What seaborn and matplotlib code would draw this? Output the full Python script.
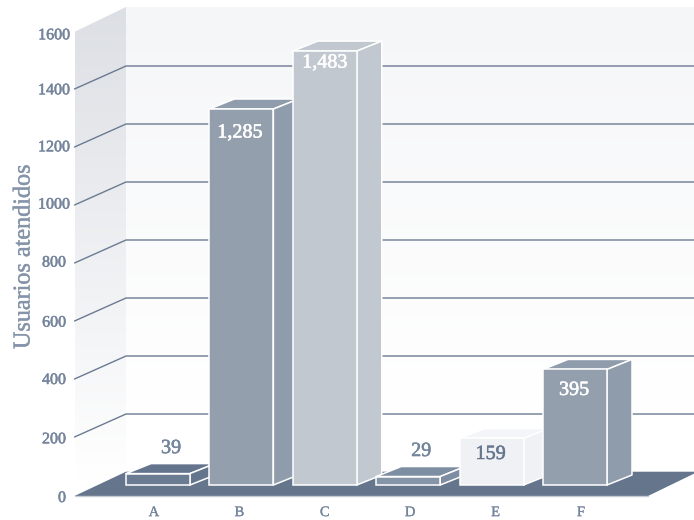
import numpy as np
import pandas as pd
import matplotlib
matplotlib.use("Agg")
import matplotlib.pyplot as plt
import matplotlib.patheffects as pe
from matplotlib.patches import Polygon
from matplotlib.colors import LinearSegmentedColormap
from matplotlib.transforms import ScaledTranslation
import seaborn as sns

categories = ["A", "B", "C", "D", "E", "F"]
values = [39, 1285, 1483, 29, 159, 395]
value_labels = ["39", "1,285", "1,483", "29", "159", "395"]
y_ticks = [0, 200, 400, 600, 800, 1000, 1200, 1400, 1600]

front_colors = ["#6a7b92", "#949fae", "#c1c8d0", "#8595a7", "#f0f1f5", "#949fae"]
top_colors = ["#64748c", "#8f9cab", "#c1c8d0", "#7e8ea2", "#f4f5f8", "#8f9cab"]
side_colors = ["#64748c", "#8f9cab", "#c1c8d0", "#7e8ea2", "#f0f1f5", "#8f9cab"]
label_colors = ["#75859c", "#ffffff", "#ffffff", "#75859c", "#66778f", "#ffffff"]
label_dx_px = [13, -1.5, 0, 13, -1, -1]
label_dy_px = [25, -24, -12, 25, -16, -21]
tick_shift_px = [1.0, 0.3, -1.0, -0.4, -2.4, -2.4, -1.7, -0.7, 2.3]

sns.set_theme(style="white")
plt.rcParams["font.family"] = ["Liberation Serif", "DejaVu Serif"]

TEXT = "#75859c"
GRID = "#6b7a92"
W, H = 694, 520
fig = plt.figure(figsize=(W / 100, H / 100), dpi=100)


def heavier(color, width=0.4):
    return [pe.withStroke(linewidth=width, foreground=color)]


# wall / floor axes: the y axis is the left front edge of the side wall
AX_TOP, AX_BOTTOM = 31, 495
wall = fig.add_axes([76 / W, (H - AX_BOTTOM) / H, (W - 76) / W, (AX_BOTTOM - AX_TOP) / H])
wall.set_xlim(0, W - 76)
wall.set_ylim(0, 1600)
for s in wall.spines.values():
    s.set_visible(False)
PX_PER_UNIT = (AX_BOTTOM - AX_TOP) / 1600
x_left = -1.5
dx = 50
dv = 23 / PX_PER_UNIT
wall_top = (AX_BOTTOM - 7) / PX_PER_UNIT


def gradient(ax, poly_pts, c0, c1, v0, v1, x0, x1):
    cmap = LinearSegmentedColormap.from_list("g", [c1, c0])
    im = ax.imshow(np.linspace(1, 0, 256).reshape(-1, 1), cmap=cmap, aspect="auto",
                   extent=(x0, x1, v0, v1), zorder=0)
    clip = Polygon(poly_pts, transform=ax.transData, facecolor="none", edgecolor="none")
    ax.add_patch(clip)
    im.set_clip_box(fig.bbox)
    im.set_clip_path(clip)


side_poly = [(x_left, 1597), (dx, wall_top), (dx, dv), (x_left, 0)]
gradient(wall, side_poly, "#dcdfe4", "#ffffff", 50, wall_top, x_left, dx)
back_poly = [(dx, wall_top), (W - 76, wall_top), (W - 76, dv), (dx, dv)]
gradient(wall, back_poly, "#f5f6f8", "#ffffff", 300, wall_top, dx, W - 76)
wall.set_xlim(0, W - 76)
wall.set_ylim(0, 1600)

for v in y_ticks[1:-1]:
    wall.plot([x_left, dx, W - 76], [v, v + dv, v + dv], color=GRID, lw=1.0, zorder=1,
              clip_on=False, solid_joinstyle="miter")

floor_front = -1 / PX_PER_UNIT
floor = Polygon([(x_left, floor_front), (572, floor_front), (622, dv + 1), (dx, dv + 1)],
                closed=True, facecolor="#64758c", edgecolor="none", zorder=2, clip_on=False)
wall.add_patch(floor)
wall.plot([x_left, 572], [floor_front, floor_front], color="#c5ccd6", lw=1.0, zorder=2, clip_on=False)

wall.set_yticks(y_ticks)
wall.set_yticklabels([str(v) for v in y_ticks])
wall.tick_params(axis="y", length=0, labelsize=11.5, labelcolor=TEXT)
for tick, v, shift in zip(wall.yaxis.get_major_ticks(), y_ticks, tick_shift_px):
    tick.set_pad(4.3 if v >= 1000 else 7.2)
    tick.label1.set_path_effects(heavier(TEXT))
    tick.label1.set_transform(tick.label1.get_transform()
                              + ScaledTranslation(0, -shift / 100, fig.dpi_scale_trans))
wall.set_xticks([78 + 85.4 * i for i in range(len(categories))])
wall.set_xticklabels(categories)
for lab in wall.get_xticklabels():
    lab.set_path_effects(heavier(TEXT, 0.2))
wall.tick_params(axis="x", length=0, labelsize=10.5, labelcolor=TEXT, pad=8)
wall.set_ylabel("Usuarios atendidos", fontsize=17.4, color="#8594a9", va="center")
wall.yaxis.label.set_path_effects(heavier("#8594a9", 0.3))
wall.yaxis.set_label_coords((24 - 76) / (W - 76), (AX_BOTTOM - 257) / (AX_BOTTOM - AX_TOP))

# bar axes
ax = fig.add_axes([0, 0, 1, 1])
ax.patch.set_alpha(0)
df = pd.DataFrame({"cat": categories, "val": values})
sns.barplot(data=df, x="cat", y="val", hue="cat", palette=front_colors, width=0.767,
            legend=False, ax=ax, saturation=1, edgecolor="white", linewidth=1.1)
PITCH, SCALE = 83.4, 0.2926
ax.set_xlim(-158 / PITCH, (W - 158) / PITCH)
ax.set_ylim(-(H - 485) / SCALE, 485 / SCALE)
ax.axis("off")

depth_x, depth_y = 25 / PITCH, 10 / SCALE
bars = list(ax.patches)
for i, bar in enumerate(bars):
    x0, w, h = bar.get_x(), bar.get_width(), bar.get_height()
    x1 = x0 + w
    bar.set_zorder(3 + 2 * i)
    ax.add_patch(Polygon([(x0, h), (x0 + depth_x, h + depth_y), (x1 + depth_x, h + depth_y), (x1, h)],
                         facecolor=top_colors[i], edgecolor="white", lw=1.1, zorder=2 + 2 * i,
                         joinstyle="round"))
    ax.add_patch(Polygon([(x1, 0), (x1 + depth_x, depth_y), (x1 + depth_x, h + depth_y), (x1, h)],
                         facecolor=side_colors[i], edgecolor="white", lw=1.1, zorder=2 + 2 * i,
                         joinstyle="round"))
    t = ax.annotate(value_labels[i], (x0 + w / 2, h),
                    xytext=(label_dx_px[i] * 0.72, label_dy_px[i] * 0.72), textcoords="offset points",
                    ha="center", va="center", color=label_colors[i], fontsize=14.5, zorder=30)
    t.set_path_effects(heavier(label_colors[i]))

fig.savefig("out.png", dpi=100, facecolor="white")
